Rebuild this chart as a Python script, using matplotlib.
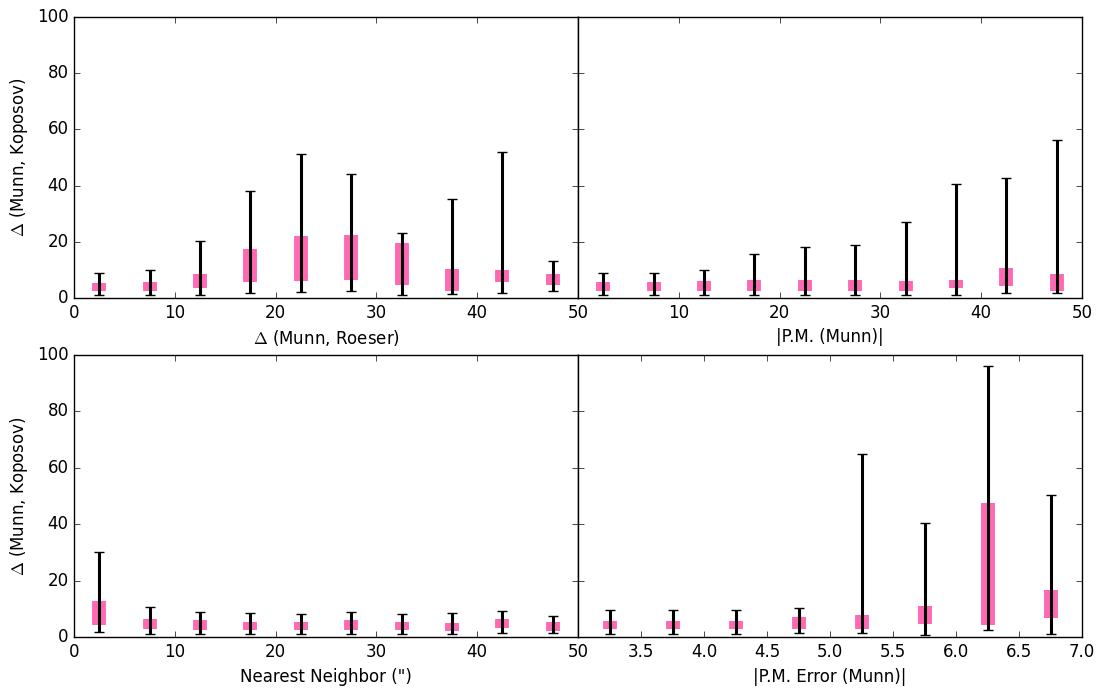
import numpy as np
import matplotlib
matplotlib.use('Agg')
import matplotlib.pyplot as plt

# bin centres
x_sep = np.arange(2.5, 50, 5.0)
x_err = np.arange(3.25, 7.0, 0.5)

# Delta (Munn, Roeser)
sep_lo = [1.2, 1.2, 1.2, 1.8, 2.1, 2.6, 1.2, 1.5, 1.8, 2.5]
sep_q1 = [2.6, 2.6, 3.5, 5.6, 6.0, 6.3, 4.5, 2.6, 5.6, 4.5]
sep_q3 = [5.5, 5.8, 8.5, 17.5, 22.1, 22.5, 19.6, 10.2, 9.9, 8.5]
sep_hi = [9.0, 9.8, 20.2, 38.1, 51.3, 44.3, 23.1, 35.1, 51.9, 13.1]

# |P.M. (Munn)|
pm_lo = [1.1, 1.1, 1.1, 1.1, 1.1, 1.1, 1.1, 1.1, 1.8, 1.8]
pm_q1 = [2.5, 2.5, 2.5, 2.5, 2.5, 2.5, 2.5, 3.6, 4.4, 2.5]
pm_q3 = [5.7, 5.7, 6.1, 6.5, 6.5, 6.5, 6.1, 6.5, 10.5, 8.7]
pm_hi = [8.9, 8.9, 10.1, 15.5, 18.3, 19.0, 27.1, 40.6, 42.7, 56.2]

# Nearest neighbour
nn_lo = [1.7, 0.9, 0.9, 0.9, 0.9, 0.9, 0.9, 0.9, 1.3, 1.3]
nn_q1 = [4.4, 3.0, 2.5, 2.5, 2.5, 2.5, 2.5, 2.2, 3.1, 2.1]
nn_q3 = [12.7, 6.5, 5.9, 5.4, 5.4, 5.9, 5.4, 5.1, 6.3, 5.4]
nn_hi = [30.2, 10.7, 9.0, 8.5, 8.2, 9.0, 8.2, 8.5, 9.3, 7.6]

# |P.M. Error (Munn)|
pe_lo = [0.9, 0.9, 0.9, 1.3, 1.3, 0.6, 2.5, 0.9]
pe_q1 = [2.7, 2.7, 2.7, 3.0, 3.0, 4.7, 4.3, 6.6]
pe_q3 = [5.8, 5.8, 5.8, 7.0, 7.7, 10.9, 47.6, 16.6]
pe_hi = [9.7, 9.7, 9.7, 10.4, 64.9, 40.4, 96.0, 50.4]

plt.style.use('classic')
plt.rcParams['figure.facecolor'] = 'white'
plt.rcParams['savefig.facecolor'] = 'white'


def panel(ax, x, lo, q1, q3, hi):
    x = np.asarray(x)
    lo, q1, q3, hi = map(np.asarray, (lo, q1, q3, hi))
    ax.vlines(x, q1, q3, color='#ff69b4', lw=10, zorder=2)
    mid = (lo + hi) / 2.0
    ax.errorbar(x, mid, yerr=[mid - lo, hi - mid], fmt='none', ecolor='k',
                elinewidth=2.2, capsize=3.5, capthick=1, zorder=3)
    ax.set_ylim(0, 100)


fig = plt.figure(figsize=(10.97, 6.90), dpi=100)
L, R = 74 / 1097., 1082 / 1097.
W = (R - L) / 2.
ax1 = fig.add_axes([L, 1 - 298 / 690., W, 281 / 690.])
ax2 = fig.add_axes([L + W, 1 - 298 / 690., W, 281 / 690.], sharey=ax1)
ax3 = fig.add_axes([L, 1 - 637 / 690., W, 282 / 690.])
ax4 = fig.add_axes([L + W, 1 - 637 / 690., W, 282 / 690.], sharey=ax3)

panel(ax1, x_sep, sep_lo, sep_q1, sep_q3, sep_hi)
panel(ax2, x_sep, pm_lo, pm_q1, pm_q3, pm_hi)
panel(ax3, x_sep, nn_lo, nn_q1, nn_q3, nn_hi)
panel(ax4, x_err, pe_lo, pe_q1, pe_q3, pe_hi)

for ax in (ax1, ax2, ax3):
    ax.set_xlim(0, 50)
    ax.set_xticks(np.arange(0, 51, 10))
ax4.set_xlim(3.0, 7.0)
ax4.set_xticks(np.arange(3.0, 7.01, 0.5))

for ax in (ax2, ax4):
    plt.setp(ax.get_yticklabels(), visible=False)
    labs = ax.get_xticklabels()
    labs[0].set_visible(False)

ax1.set_ylabel(r'$\Delta$ (Munn, Koposov)')
ax3.set_ylabel(r'$\Delta$ (Munn, Koposov)')
ax1.set_xlabel(r'$\Delta$ (Munn, Roeser)')
ax2.set_xlabel('|P.M. (Munn)|')
ax3.set_xlabel('Nearest Neighbor (")')
ax4.set_xlabel('|P.M. Error (Munn)|')

fig.savefig('out.png', dpi=100)
